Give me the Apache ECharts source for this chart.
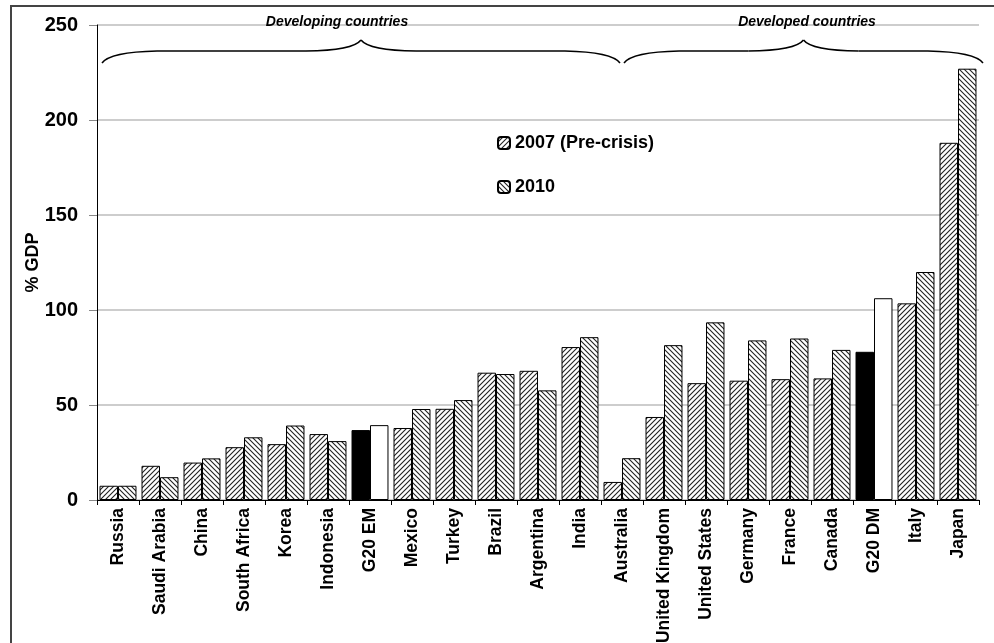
<!DOCTYPE html>
<html>
<head>
<meta charset="utf-8">
<script src="https://cdn.jsdelivr.net/npm/echarts@6/dist/echarts.min.js"></script>
<style>
  html, body { margin: 0; padding: 0; background: #fff; }
  #main { width: 994px; height: 643px; }
</style>
</head>
<body>
<div id="main"></div>
<script>
var categories = ['Russia', 'Saudi Arabia', 'China', 'South Africa', 'Korea', 'Indonesia', 'G20 EM',
  'Mexico', 'Turkey', 'Brazil', 'Argentina', 'India', 'Australia', 'United Kingdom', 'United States',
  'Germany', 'France', 'Canada', 'G20 DM', 'Italy', 'Japan'];
var v2007 = [7.5, 18, 19.7, 27.8, 29.4, 34.7, 36.8, 37.9, 48, 67, 68, 80.5, 9.5, 43.7, 61.5, 62.8, 63.6, 64, 78, 103.5, 188];
var v2010 = [7.5, 12, 21.9, 33, 39.2, 31, 39.4, 47.9, 52.6, 66.3, 57.7, 85.7, 22, 81.5, 93.5, 84, 85, 79, 106.2, 120, 227];
var aggregates = ['G20 EM', 'G20 DM'];
var yTicks = [0, 50, 100, 150, 200, 250];

var FONT = "'Liberation Sans', Arial, sans-serif";

// small hatch tiles for the bar fills
function hatch(forward) {
  var s = 5;
  var c = document.createElement('canvas');
  c.width = s; c.height = s;
  var ctx = c.getContext('2d');
  ctx.fillStyle = '#fff';
  ctx.fillRect(0, 0, s, s);
  ctx.strokeStyle = '#222';
  ctx.lineWidth = 1.1;
  ctx.beginPath();
  if (forward) {
    ctx.moveTo(-1, s + 1); ctx.lineTo(s + 1, -1);
    ctx.moveTo(-1, 1); ctx.lineTo(1, -1);
    ctx.moveTo(s - 1, s + 1); ctx.lineTo(s + 1, s - 1);
  } else {
    ctx.moveTo(-1, -1); ctx.lineTo(s + 1, s + 1);
    ctx.moveTo(s - 1, -1); ctx.lineTo(s + 1, 1);
    ctx.moveTo(-1, s - 1); ctx.lineTo(1, s + 1);
  }
  ctx.stroke();
  return { image: c, repeat: 'repeat' };
}
var fill2007 = hatch(true);
var fill2010 = hatch(false);

function build(values, special) {
  return values.map(function (v, i) {
    if (aggregates.indexOf(categories[i]) >= 0) {
      return { value: v, itemStyle: { color: special } };
    }
    return v;
  });
}

var chartDom = document.getElementById('main');
var myChart = echarts.init(chartDom, null, { renderer: 'canvas' });
var option;

option = {
  animation: false,
  backgroundColor: '#fff',
  textStyle: { fontFamily: FONT },
  grid: { left: 97, right: 15, top: 25, bottom: 143, outerBoundsMode: 'none' },
  legend: {
    orient: 'vertical',
    left: 497,
    top: 134,
    padding: 0,
    itemWidth: 12,
    itemHeight: 12,
    itemGap: 26,
    textStyle: { fontFamily: FONT, fontWeight: 'bold', fontSize: 18, color: '#000' },
    data: ['2007 (Pre-crisis)', '2010']
  },
  xAxis: {
    type: 'category',
    data: categories,
    axisLine: { lineStyle: { color: '#000', width: 1 } },
    axisTick: { show: true, length: 5, lineStyle: { color: '#000' } },
    axisLabel: {
      rotate: 90,
      interval: 0,
      margin: 8,
      fontFamily: FONT,
      fontWeight: 'bold',
      fontSize: 17.5,
      color: '#000'
    }
  },
  yAxis: {
    type: 'value',
    min: yTicks[0],
    max: yTicks[yTicks.length - 1],
    interval: 50,
    name: '% GDP',
    nameLocation: 'middle',
    nameRotate: 90,
    nameGap: 55,
    nameMoveOverlap: false,
    nameTextStyle: { fontFamily: FONT, fontWeight: 'bold', fontSize: 18, color: '#000' },
    axisLine: { show: true, lineStyle: { color: '#000', width: 1 } },
    axisTick: { show: true, length: 8, lineStyle: { color: '#888' } },
    axisLabel: {
      margin: 19,
      fontFamily: FONT,
      fontWeight: 'bold',
      fontSize: 20,
      color: '#000'
    },
    splitLine: { lineStyle: { color: '#bdbdbd', width: 1.5 } }
  },
  series: [
    {
      name: '2007 (Pre-crisis)',
      type: 'bar',
      data: build(v2007, '#000'),
      barGap: '0%',
      barCategoryGap: '12%',
      itemStyle: { color: fill2007, borderColor: '#000', borderWidth: 1 }
    },
    {
      name: '2010',
      type: 'bar',
      data: build(v2010, '#fff'),
      itemStyle: { color: fill2010, borderColor: '#000', borderWidth: 1 }
    }
  ]
};

option && myChart.setOption(option);

// braces and group titles, anchored on the category axis
function xOf(name) {
  return myChart.convertToPixel({ xAxisIndex: 0 }, name);
}
function brace(x0, x1) {
  var xm = (x0 + x1) / 2;
  var yEnd = 63, yFlat = 51, yTip = 40;
  var st = { fill: 'none', stroke: '#000', lineWidth: 1.5 };
  function q(ax, ay, cx, cy, bx, by) {
    return { type: 'bezierCurve', shape: { x1: ax, y1: ay, cpx1: cx, cpy1: cy, x2: bx, y2: by }, style: st };
  }
  function ln(ax, ay, bx, by) {
    return { type: 'line', shape: { x1: ax, y1: ay, x2: bx, y2: by }, style: st };
  }
  return [
    q(x0, yEnd, x0 + 8, yFlat + 1, x0 + 55, yFlat),
    ln(x0 + 55, yFlat, xm - 55, yFlat),
    q(xm - 55, yFlat, xm - 8, yFlat - 0.5, xm, yTip),
    q(xm, yTip, xm + 8, yFlat - 0.5, xm + 55, yFlat),
    ln(xm + 55, yFlat, x1 - 55, yFlat),
    q(x1 - 55, yFlat, x1 - 8, yFlat + 1, x1, yEnd)
  ];
}
var half = (xOf('China') - xOf('Saudi Arabia')) / 2;
var devLeft = xOf('Russia') - half + 5;
var mid = xOf('Australia');
var dmRight = xOf('Japan') + half + 4;

var extras = [
  {
    type: 'rect',
    shape: { x: 11, y: 6, width: 1000, height: 700 },
    style: { fill: 'none', stroke: '#444', lineWidth: 2 },
    silent: true
  },
  {
    type: 'text',
    x: 337, y: 22,
    style: {
      text: 'Developing countries', fill: '#000',
      font: 'italic bold 14px ' + FONT,
      align: 'center', verticalAlign: 'middle'
    }
  },
  {
    type: 'text',
    x: 807, y: 22,
    style: {
      text: 'Developed countries', fill: '#000',
      font: 'italic bold 14px ' + FONT,
      align: 'center', verticalAlign: 'middle'
    }
  }
].concat(brace(devLeft, mid - 2), brace(mid + 2, dmRight));

myChart.setOption({ graphic: extras });
</script>
</body>
</html>
